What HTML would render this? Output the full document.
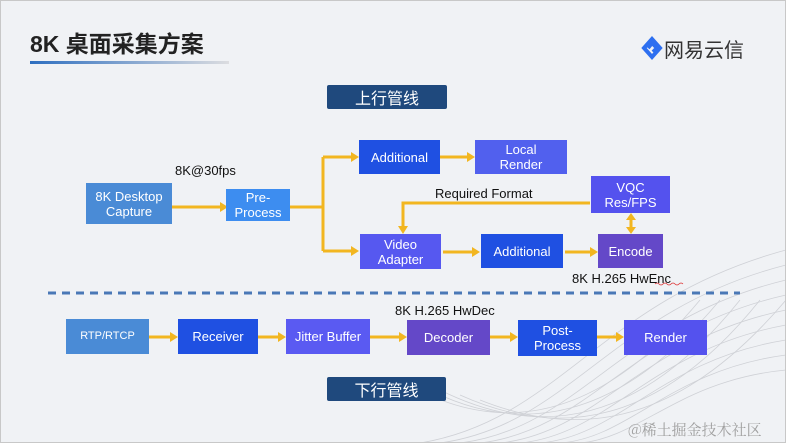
<!DOCTYPE html>
<html><head><meta charset="utf-8"><style>
*{margin:0;padding:0;box-sizing:border-box}
body{width:786px;height:443px;overflow:hidden;background:#f0f2f5;font-family:"Liberation Sans","Noto Sans CJK SC",sans-serif;position:relative}
.frame{position:absolute;left:0;top:0;width:786px;height:443px;border:1px solid #c8c8c8}
.b{position:absolute;color:#fff;display:flex;align-items:center;justify-content:center;text-align:center;font-size:13px;line-height:15px}
.t{position:absolute;font-size:13px;color:#111;white-space:nowrap}
.lbl{position:absolute;background:#1f497d;color:#fff;font-size:16px;display:flex;align-items:center;justify-content:center;border-radius:2px;font-family:"Noto Sans CJK SC",sans-serif}
svg{position:absolute;left:0;top:0}
</style></head><body>
<svg width="786" height="443">
 <g fill="none" stroke="#cfd1d6" stroke-width="0.8">
  <path d="M420 443 C560 420 600 300 786 250"/>
  <path d="M440 443 C570 425 610 310 786 265"/>
  <path d="M460 443 C580 428 620 320 786 280"/>
  <path d="M480 443 C590 430 630 330 786 295"/>
  <path d="M500 443 C600 432 640 340 786 310"/>
  <path d="M520 443 C610 434 650 350 786 325"/>
  <path d="M540 443 C620 436 660 360 786 340"/>
  <path d="M560 443 C630 438 670 370 786 355"/>
  <path d="M580 443 C640 438 680 380 786 370"/>
  <path d="M400 380 C500 440 600 420 700 300"/>
  <path d="M420 385 C520 440 620 420 720 300"/>
  <path d="M440 390 C540 440 640 425 740 300"/>
  <path d="M460 395 C560 440 660 425 760 300"/>
  <path d="M480 400 C580 440 680 425 786 300"/>
 </g>
 <defs><linearGradient id="g" x1="0" x2="1"><stop offset="0" stop-color="#2e6fc0"/><stop offset="1" stop-color="#dcdde0"/></linearGradient></defs>
 <rect x="30" y="61" width="199" height="3" fill="url(#g)"/>
 <g stroke="#f2b620" stroke-width="3" fill="none">
  <path d="M172 207 H220"/>
  <path d="M289 207 H323 M323 157 V251 M323 157 H352 M323 251 H352"/>
  <path d="M440 157 H468"/>
  <path d="M590 203 H403 V228"/>
  <path d="M443 252 H472"/>
  <path d="M565 252 H591"/>
  <path d="M631 219 V228"/>
  <path d="M149 337 H170 M258 337 H278 M370 337 H399 M490 337 H510 M597 337 H616"/>
 </g>
 <g fill="#f2b620">
  <path d="M228 207 l-8 -5 v10z"/>
  <path d="M359 157 l-8 -5 v10z"/><path d="M359 251 l-8 -5 v10z"/>
  <path d="M475 157 l-8 -5 v10z"/>
  <path d="M403 234 l-5 -8 h10z"/>
  <path d="M480 252 l-8 -5 v10z"/>
  <path d="M598 252 l-8 -5 v10z"/>
  <path d="M631 213 l-5 7 h10z"/><path d="M631 234 l-5 -7 h10z"/>
  <path d="M178 337 l-8 -5 v10z"/><path d="M286 337 l-8 -5 v10z"/><path d="M407 337 l-8 -5 v10z"/><path d="M518 337 l-8 -5 v10z"/><path d="M624 337 l-8 -5 v10z"/>
 </g>
 <line x1="48" y1="293" x2="740" y2="293" stroke="#4a78b6" stroke-width="3" stroke-dasharray="8 6"/>
 <path d="M644 48 l8 -9 l8 9 l-8 9z M648 48 l4 -5 l5 5 l-4 4" fill="none" stroke="#2d6ff0" stroke-width="4"/>
 <path d="M655 284 q2 -2 4 0 q2 2 4 0 q2 -2 4 0 q2 2 4 0 q2 -2 4 0 q2 2 4 0 q2 -2 4 0" stroke="#d33" stroke-width="0.8" fill="none"/>
</svg>
<div class="frame"></div>
<div class="t" style="left:30px;top:25px;font-size:23px;font-weight:bold;color:#222;font-family:'Liberation Sans','Noto Sans CJK SC',sans-serif">8K 桌面采集方案</div>
<div class="t" style="left:664px;top:34px;font-size:20px;color:#333">网易云信</div>
<div class="lbl" style="left:327px;top:85px;width:120px;height:24px">上行管线</div>
<div class="lbl" style="left:327px;top:377px;width:119px;height:24px">下行管线</div>

<div class="b" style="left:86px;top:183px;width:86px;height:41px;background:#4a8bd6">8K Desktop<br>Capture</div>
<div class="b" style="left:226px;top:189px;width:64px;height:32px;background:#3d8df0">Pre-<br>Process</div>
<div class="b" style="left:359px;top:140px;width:81px;height:34px;background:#1f50e2">Additional</div>
<div class="b" style="left:475px;top:140px;width:92px;height:34px;background:#5160ee">Local<br>Render</div>
<div class="b" style="left:591px;top:176px;width:79px;height:37px;background:#5452ee">VQC<br>Res/FPS</div>
<div class="b" style="left:360px;top:234px;width:81px;height:35px;background:#5658f0">Video<br>Adapter</div>
<div class="b" style="left:481px;top:234px;width:82px;height:34px;background:#1f50e2">Additional</div>
<div class="b" style="left:598px;top:234px;width:65px;height:34px;background:#6448c8">Encode</div>
<div class="t" style="left:175px;top:163px">8K@30fps</div>
<div class="t" style="left:435px;top:186px">Required Format</div>
<div class="t" style="left:572px;top:271px">8K H.265 HwEnc</div>
<div class="t" style="left:395px;top:303px">8K H.265 HwDec</div>

<div class="b" style="left:66px;top:319px;width:83px;height:35px;background:#4a8bd6;font-size:11px">RTP/RTCP</div>
<div class="b" style="left:178px;top:319px;width:80px;height:35px;background:#1f50e2">Receiver</div>
<div class="b" style="left:286px;top:319px;width:84px;height:35px;background:#5a5af2">Jitter Buffer</div>
<div class="b" style="left:407px;top:320px;width:83px;height:35px;background:#6448c8">Decoder</div>
<div class="b" style="left:518px;top:320px;width:79px;height:36px;background:#1f50e2">Post-<br>Process</div>
<div class="b" style="left:624px;top:320px;width:83px;height:35px;background:#5452ee">Render</div>
<div class="t" style="left:628px;top:419px;font-size:15px;color:#a0a0a0;font-family:'Noto Serif CJK SC',serif">@稀土掘金技术社区</div>
</body></html>
